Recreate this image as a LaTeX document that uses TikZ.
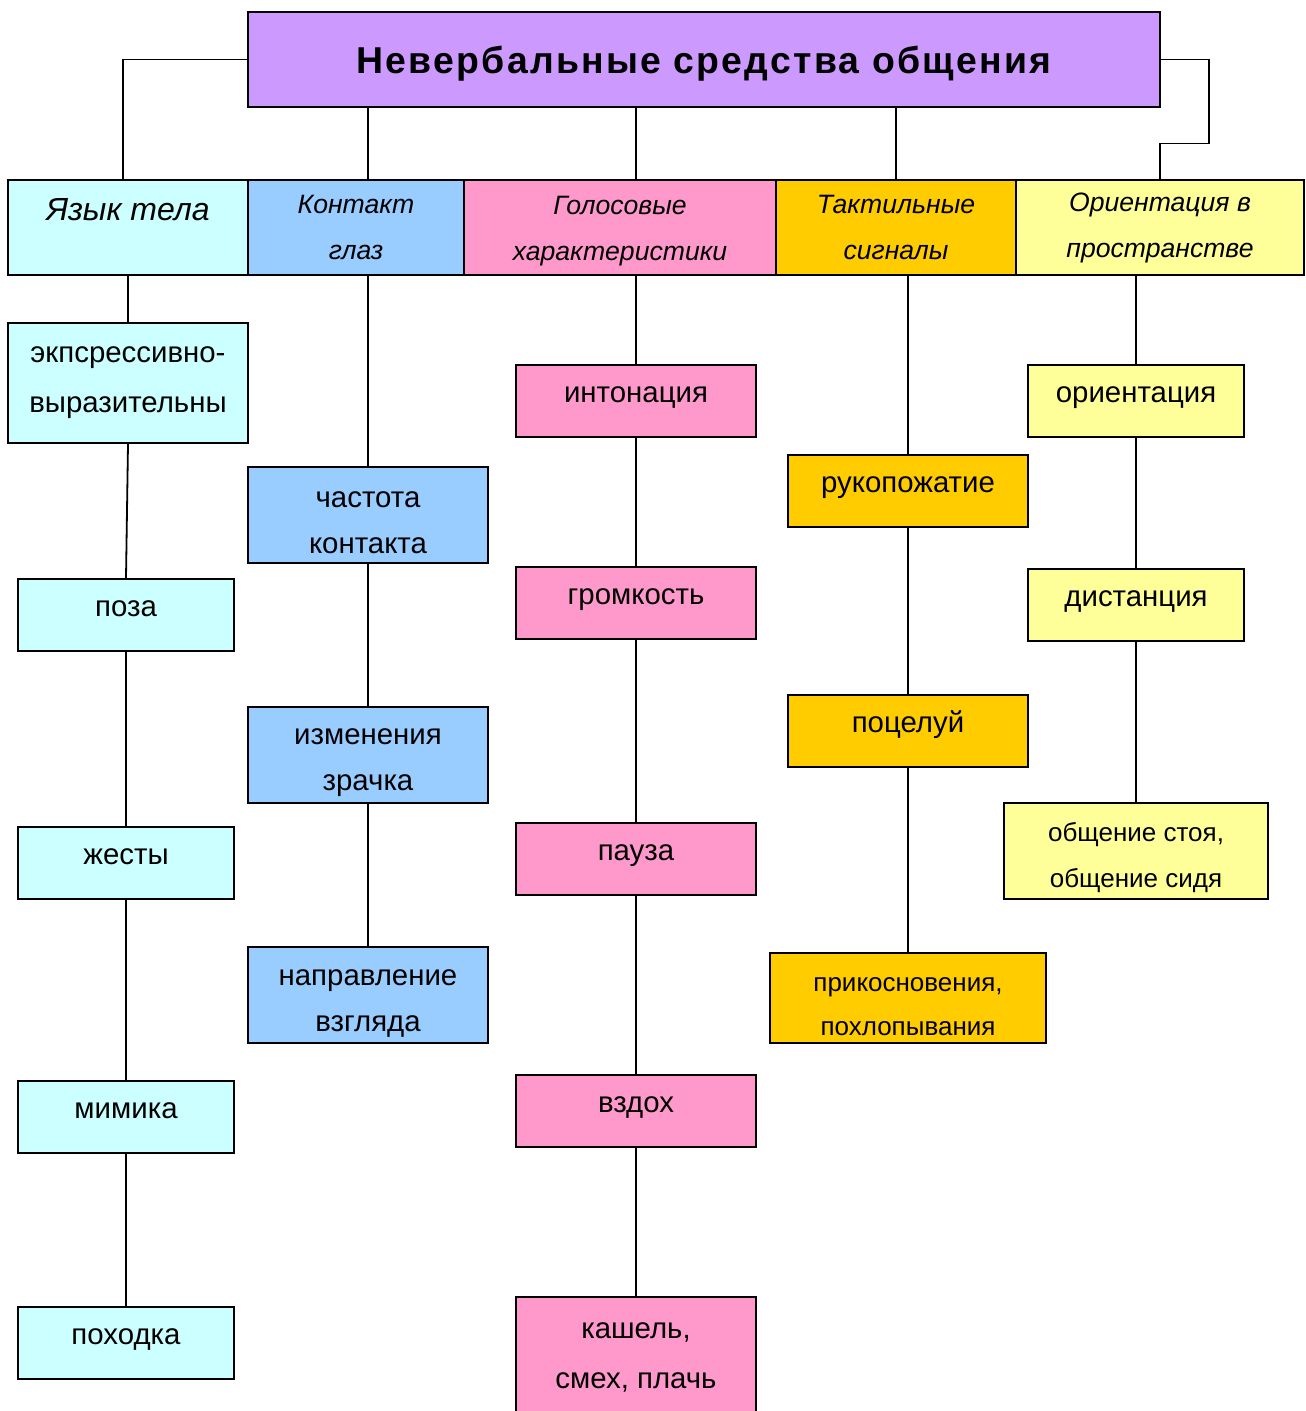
\documentclass[tikz,border=0pt]{standalone}
\usepackage{fontspec}
\setmainfont{Liberation Sans}
\newfontfamily\spacedfont[LetterSpace=6]{Liberation Sans}
\usepackage{xcolor}
\usepackage{tikz}
\definecolor{lilac}{HTML}{CC99FF}
\definecolor{cyanbg}{HTML}{CCFFFF}
\definecolor{bluebg}{HTML}{99CCFF}
\definecolor{pinkbg}{HTML}{FF99CC}
\definecolor{goldbg}{HTML}{FFCC00}
\definecolor{lemonbg}{HTML}{FFFF99}
\newcommand{\topgap}{\rule{0pt}{16pt}}
\tikzstyle{box} = [rectangle, draw=black, line width=1pt, align=center, inner sep=2pt, font=\fontsize{14.7pt}{23pt}\selectfont]
\tikzstyle{head} = [box, minimum height=47.5pt, font=\fontsize{13.3pt}{23pt}\selectfont\itshape]
\tikzstyle{single} = [text height=10pt, text depth=9pt]
\tikzstyle{bodybox} = [box, fill=cyanbg, minimum width=108pt, minimum height=36pt, single]
\tikzstyle{eyebox} = [box, fill=bluebg, minimum width=120pt, minimum height=48pt]
\tikzstyle{voicebox} = [box, fill=pinkbg, minimum width=120pt, minimum height=36pt, single]
\tikzstyle{touchbox} = [box, fill=goldbg, minimum width=120pt, minimum height=36pt, single]
\tikzstyle{spacebox} = [box, fill=lemonbg, minimum width=108pt, minimum height=36pt, single]
\tikzstyle{line} = [draw, line width=0.9pt]

\begin{document}
\begin{tikzpicture}[x=0.5pt, y=-0.5pt]

	\useasboundingbox (0,0) rectangle (1305,1411);
	\fill [white] (0,0) rectangle (1305,1411);

	\node (main) [box, fill=lilac, minimum width=456pt, minimum height=47.5pt, text height=14pt, text depth=0pt, font=\spacedfont\bfseries\fontsize{18.7pt}{22pt}\selectfont] at (704,59.5) {Невербальные средства общения};

	\node (body) [head, fill=cyanbg, minimum width=120pt, font=\fontsize{16pt}{18pt}\selectfont\itshape, text height=12pt, text depth=18.7pt] at (128,227.5) {Язык тела};
	\node (eyes) [head, fill=bluebg, minimum width=108pt] at (356,227.5) {Контакт\\глаз};
	\node (voice) [head, fill=pinkbg, minimum width=156pt] at (620,227.5) {\rule{0pt}{13pt}Голосовые\\характеристики};
	\node (touch) [head, fill=goldbg, minimum width=120pt] at (896,227.5) {Тактильные\\сигналы};
	\node (space) [head, fill=lemonbg, minimum width=144pt] at (1160,227.5) {Ориентация в\\пространстве};

	% язык тела
	\node (b1) [box, fill=cyanbg, minimum width=120pt, minimum height=60pt, font=\fontsize{14.7pt}{25pt}\selectfont] at (128,383) {экпсрессивно-\\выразительны};
	\node (b2) [bodybox] at (126,615) {поза};
	\node (b3) [bodybox] at (126,863) {жесты};
	\node (b4) [bodybox] at (126,1117) {мимика};
	\node (b5) [bodybox] at (126,1343) {походка};

	% контакт глаз
	\node (e1) [eyebox] at (368,515) {\topgap частота\\контакта};
	\node (e2) [eyebox] at (368,755) {\topgap изменения\\зрачка};
	\node (e3) [eyebox] at (368,995) {\topgap направление\\взгляда};

	% голос
	\node (v1) [voicebox] at (636,401) {интонация};
	\node (v2) [voicebox] at (636,603) {громкость};
	\node (v3) [voicebox] at (636,859) {пауза};
	\node (v4) [voicebox] at (636,1111) {вздох};
	\node (v5) [box, fill=pinkbg, minimum width=120pt, minimum height=60pt, font=\fontsize{14.7pt}{25pt}\selectfont] at (636,1357) {кашель,\\смех, плачь};

	% тактильные
	\node (t1) [touchbox] at (908,491) {рукопожатие};
	\node (t2) [touchbox] at (908,731) {поцелуй};
	\node (t3) [box, fill=goldbg, minimum width=138pt, minimum height=45pt, font=\fontsize{13pt}{22pt}\selectfont] at (908,998) {\topgap прикосновения,\\похлопывания};

	% пространство
	\node (s1) [spacebox] at (1136,401) {ориентация};
	\node (s2) [spacebox] at (1136,605) {дистанция};
	\node (s3) [box, fill=lemonbg, minimum width=132pt, minimum height=48pt, font=\fontsize{13pt}{23pt}\selectfont] at (1136,851) {\topgap общение стоя,\\общение сидя};

	\draw [line] (main.west) -| ([xshift=-2.5pt]body.north);
	\draw [line] (e1 |- main.south) -- (e1 |- eyes.north);
	\draw [line] (v1 |- main.south) -- (v1 |- voice.north);
	\draw [line] (touch |- main.south) -- (touch.north);
	\draw [line] (main.east) -- ++(48,0) -- ++(0,84) -| (space.north);

	\draw [line] (body.south) -- (b1.north);
	\draw [line] (b1.south) -- (b2.north);
	\draw [line] (b2.south) -- (b3.north);
	\draw [line] (b3.south) -- (b4.north);
	\draw [line] (b4.south) -- (b5.north);

	\draw [line] (e1 |- eyes.south) -- (e1.north);
	\draw [line] (e1.south) -- (e2.north);
	\draw [line] (e2.south) -- (e3.north);

	\draw [line] (v1 |- voice.south) -- (v1.north);
	\draw [line] (v1.south) -- (v2.north);
	\draw [line] (v2.south) -- (v3.north);
	\draw [line] (v3.south) -- (v4.north);
	\draw [line] (v4.south) -- (v5.north);

	\draw [line] (t1 |- touch.south) -- (t1.north);
	\draw [line] (t1.south) -- (t2.north);
	\draw [line] (t2.south) -- (t3.north);

	\draw [line] (s1 |- space.south) -- (s1.north);
	\draw [line] (s1.south) -- (s2.north);
	\draw [line] (s2.south) -- (s3.north);

\end{tikzpicture}
\end{document}
